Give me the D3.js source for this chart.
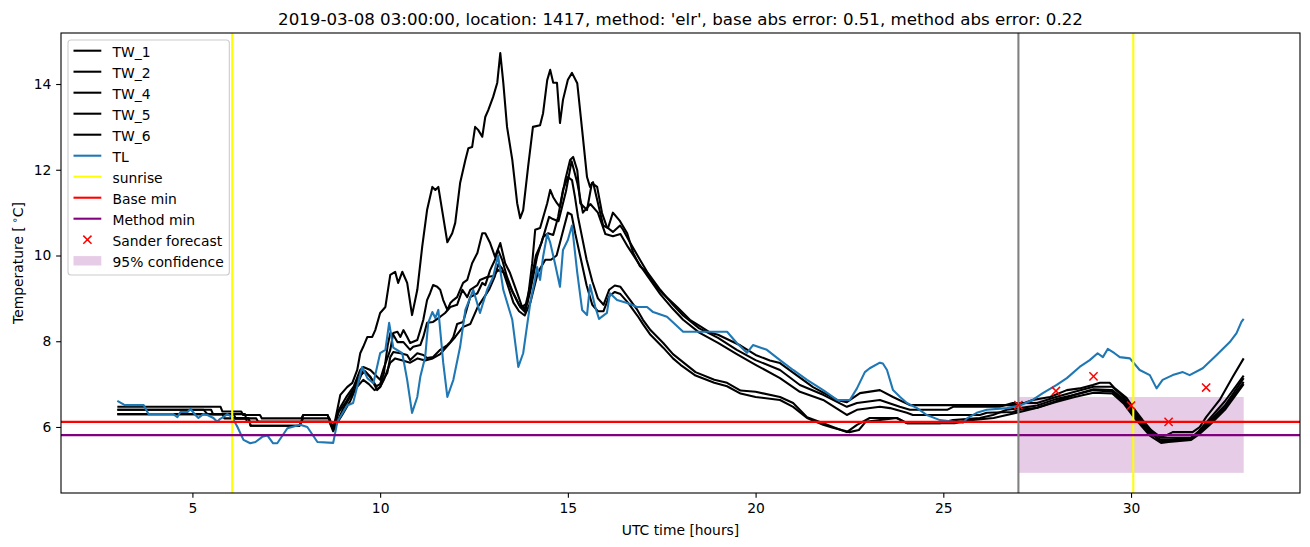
<!DOCTYPE html>
<html><head><meta charset="utf-8">
<script src="https://cdn.jsdelivr.net/npm/d3@7"></script>
<style>body{margin:0;background:#fff} svg{display:block} text{font-family:"DejaVu Sans",sans-serif;fill:#000}</style>
</head><body><svg id="c" width="1310" height="547"></svg>
<script>
// ---------------- data (time in hours UTC, temperature in °C) ----------------
const tw1 = [[3,6.47],[5.75,6.47],[5.8,6.36],[6.3,6.36],[6.35,6.28],[6.8,6.28],[6.85,6.2],[7.9,6.2],[7.95,6.28],[8.6,6.28],[8.75,5.93],[8.94,6.75],[9.12,6.93],[9.26,7.03],[9.39,7.33],[9.47,7.72],[9.55,7.87],[9.66,8.1],[9.79,8.1],[9.87,8.26],[10.0,8.66],[10.14,8.8],[10.27,9.55],[10.4,9.62],[10.48,9.36],[10.59,9.62],[10.72,9.36],[10.85,8.61],[10.99,9.2],[11.12,10.2],[11.25,11.06],[11.39,11.6],[11.47,11.53],[11.55,11.6],[11.68,10.9],[11.79,10.31],[11.92,10.52],[12.0,10.76],[12.13,11.69],[12.27,12.23],[12.35,12.5],[12.45,12.53],[12.53,13.0],[12.61,12.93],[12.72,12.77],[12.8,13.23],[12.88,13.39],[13.01,13.7],[13.12,14.03],[13.2,14.72],[13.28,14.03],[13.38,13.0],[13.52,12.23],[13.65,11.22],[13.73,10.87],[13.81,11.06],[13.94,12.06],[14.07,13.0],[14.26,13.04],[14.34,13.32],[14.45,14.09],[14.53,14.33],[14.61,14.03],[14.71,14.03],[14.79,13.09],[14.87,13.63],[15.0,14.1],[15.11,14.26],[15.25,14.02],[15.38,12.93],[15.51,11.83],[15.59,11.6],[15.67,11.71],[15.78,11.3],[15.94,10.7],[16.07,10.64],[16.2,11.0],[16.39,10.8],[16.58,10.52],[16.74,10.06],[16.92,9.75],[17.11,9.6],[17.27,9.36],[17.54,9.1],[17.91,8.8],[18.25,8.5],[18.52,8.35],[18.79,8.2],[19.0,8.15],[19.6,7.9],[20.0,7.68],[20.38,7.55],[20.65,7.49],[21.53,6.93],[22.17,6.63],[22.43,6.58],[22.78,6.79],[23.31,6.86],[23.66,6.7],[24.11,6.51],[27.0,6.51],[27.38,6.63],[27.84,6.7],[28.29,6.86],[28.63,6.9],[28.98,6.98],[29.17,7.03],[29.43,7.03],[29.57,6.9],[29.88,6.68],[30.04,6.47],[30.31,6.16],[30.58,5.88],[30.76,5.77],[30.95,5.81],[31.11,5.88],[31.64,5.88],[31.83,6.0],[32.0,6.23],[32.36,6.63],[32.71,7.17],[33.0,7.6]];
const tw2 = [[3,6.4],[5.5,6.4],[5.55,6.3],[6.4,6.3],[6.45,6.12],[7.9,6.12],[7.95,6.2],[8.65,6.2],[8.75,5.98],[8.9,6.4],[9.1,6.7],[9.3,6.95],[9.47,7.33],[9.55,7.4],[9.74,7.33],[9.82,7.26],[10.0,7.1],[10.08,7.33],[10.27,7.8],[10.35,8.19],[10.46,8.22],[10.54,8.1],[10.62,8.26],[10.72,8.1],[10.8,7.96],[10.99,8.03],[11.07,8.26],[11.15,8.5],[11.25,8.96],[11.33,9.12],[11.41,9.31],[11.52,9.27],[11.6,9.2],[11.68,8.96],[11.79,8.73],[11.87,8.89],[11.95,8.96],[12.05,9.03],[12.13,9.2],[12.21,9.36],[12.32,9.43],[12.45,9.82],[12.59,10.06],[12.72,10.52],[12.8,10.52],[12.93,10.29],[13.06,9.97],[13.2,10.29],[13.33,9.82],[13.46,9.59],[13.65,9.13],[13.78,8.8],[13.92,8.89],[14.05,9.82],[14.13,10.6],[14.26,10.64],[14.45,11.22],[14.53,11.53],[14.61,11.36],[14.71,11.22],[14.79,11.13],[14.93,11.76],[15.06,12.23],[15.14,12.3],[15.25,11.99],[15.33,11.22],[15.51,11.06],[15.64,11.69],[15.78,11.6],[15.91,10.99],[16.04,10.66],[16.2,10.55],[16.39,10.7],[16.47,10.6],[16.66,10.3],[16.92,9.9],[17.11,9.62],[17.46,9.2],[17.8,8.85],[18.07,8.6],[18.5,8.3],[19.0,8.08],[19.5,7.8],[20.0,7.56],[20.65,7.33],[21.18,6.98],[21.8,6.75],[22.43,6.47],[22.7,6.56],[23.31,6.63],[23.84,6.47],[24.11,6.4],[25.1,6.4],[25.26,6.47],[26.5,6.47],[26.85,6.56],[27.5,6.56],[28.0,6.7],[28.5,6.82],[29.0,6.94],[29.5,6.94],[29.8,6.7],[30.1,6.35],[30.5,5.95],[30.8,5.75],[31.6,5.75],[31.8,5.9],[32.1,6.2],[32.5,6.6],[33.0,7.2]];
const tw4 = [[3,6.4],[5.3,6.4],[5.4,6.3],[6.1,6.3],[6.15,6.2],[6.5,6.2],[6.55,6.03],[7.85,6.03],[7.9,6.12],[8.65,6.12],[8.75,5.95],[8.9,6.35],[9.1,6.6],[9.3,6.9],[9.47,7.2],[9.6,7.3],[9.75,7.15],[9.9,6.95],[10.0,7.0],[10.1,7.25],[10.2,7.9],[10.27,8.19],[10.35,8.15],[10.46,7.98],[10.62,7.98],[10.8,7.8],[10.88,7.87],[11.07,7.91],[11.15,8.1],[11.25,8.43],[11.41,8.45],[11.6,8.57],[11.73,8.66],[11.87,8.8],[12.05,8.85],[12.19,9.2],[12.32,9.03],[12.4,9.2],[12.59,9.31],[12.66,9.43],[12.85,9.5],[13.01,9.52],[13.14,9.66],[13.3,9.6],[13.5,9.2],[13.7,8.85],[13.85,8.75],[14.0,9.3],[14.15,10.0],[14.3,10.3],[14.5,10.9],[14.6,10.85],[14.75,10.8],[14.95,11.5],[15.1,12.2],[15.25,11.7],[15.4,11.0],[15.6,11.2],[15.8,11.0],[16.0,10.5],[16.2,10.45],[16.4,10.5],[16.6,10.2],[16.9,9.8],[17.1,9.55],[17.46,9.1],[17.8,8.75],[18.07,8.5],[18.5,8.2],[19.0,7.96],[19.5,7.7],[20.0,7.45],[20.65,7.14],[21.18,6.82],[21.8,6.63],[22.43,6.28],[22.7,6.4],[23.31,6.47],[23.58,6.44],[24.03,6.33],[24.19,6.28],[25.97,6.28],[26.16,6.33],[26.85,6.35],[27.04,6.4],[27.5,6.45],[28.0,6.6],[28.5,6.75],[29.0,6.88],[29.5,6.86],[29.8,6.65],[30.1,6.3],[30.5,5.9],[30.8,5.65],[31.0,5.68],[31.6,5.72],[31.8,5.85],[32.1,6.15],[32.5,6.5],[33.0,7.14]];
const tw5 = [[3,6.3],[5.8,6.3],[5.85,6.2],[6.7,6.2],[6.75,6.12],[7.9,6.12],[7.95,6.28],[8.6,6.28],[8.75,5.95],[9.0,6.3],[9.2,6.6],[9.4,7.0],[9.55,7.33],[9.74,7.17],[9.82,7.03],[9.92,6.86],[10.0,6.93],[10.08,7.1],[10.19,7.26],[10.27,7.63],[10.35,7.75],[10.54,7.72],[10.72,7.68],[10.8,7.56],[10.99,7.72],[11.15,7.68],[11.25,7.61],[11.41,7.63],[11.6,7.8],[11.79,7.91],[11.87,7.98],[11.95,8.1],[12.05,8.4],[12.21,8.45],[12.4,9.03],[12.59,9.12],[12.72,9.36],[12.8,9.31],[12.93,9.66],[13.06,9.9],[13.14,10.13],[13.25,9.9],[13.38,9.5],[13.54,9.13],[13.73,8.8],[13.86,8.68],[13.99,9.13],[14.18,9.97],[14.34,10.43],[14.47,10.52],[14.61,10.48],[14.74,10.9],[14.87,11.53],[15.0,11.83],[15.11,11.76],[15.19,11.36],[15.27,10.9],[15.5,9.9],[15.65,9.4],[15.8,9.0],[15.95,8.85],[16.1,9.2],[16.25,9.3],[16.4,9.27],[16.6,9.03],[16.85,8.73],[17.0,8.5],[17.2,8.26],[17.54,7.96],[17.8,7.7],[18.0,7.56],[18.4,7.28],[18.9,7.1],[19.24,7.03],[19.6,6.85],[20.0,6.82],[20.65,6.7],[21.0,6.56],[21.37,6.23],[21.8,6.09],[22.06,6.0],[22.43,5.88],[22.7,6.05],[23.04,6.21],[23.76,6.21],[24.03,6.09],[24.91,6.09],[25.26,6.16],[25.97,6.21],[26.32,6.28],[26.69,6.4],[27.04,6.44],[27.5,6.5],[28.0,6.65],[28.5,6.75],[29.0,6.86],[29.5,6.82],[29.8,6.6],[30.1,6.25],[30.5,5.85],[30.8,5.7],[31.0,5.7],[31.6,5.75],[31.8,5.85],[32.1,6.1],[32.5,6.45],[33.0,7.05]];
const tw6 = [[3,6.3],[6.0,6.3],[6.05,6.2],[6.5,6.2],[6.55,6.03],[7.85,6.03],[7.9,6.12],[8.65,6.12],[8.75,5.9],[9.0,6.4],[9.2,6.7],[9.4,6.95],[9.55,7.1],[9.7,7.0],[9.85,6.86],[10.0,6.93],[10.1,7.1],[10.27,7.5],[10.4,7.6],[10.6,7.55],[10.8,7.5],[11.0,7.6],[11.2,7.55],[11.4,7.6],[11.6,7.7],[11.8,7.9],[12.0,8.1],[12.2,8.33],[12.4,8.4],[12.6,8.8],[12.75,9.0],[12.9,9.2],[13.05,9.5],[13.15,9.8],[13.25,9.7],[13.4,9.3],[13.55,8.9],[13.7,8.7],[13.85,8.6],[14.0,8.9],[14.2,9.6],[14.4,9.9],[14.55,9.9],[14.7,10.0],[14.85,10.5],[15.0,11.0],[15.1,10.95],[15.2,10.5],[15.35,9.9],[15.5,9.3],[15.65,8.85],[15.8,8.7],[15.95,8.7],[16.1,9.05],[16.25,9.15],[16.4,9.1],[16.6,8.9],[16.85,8.6],[17.0,8.4],[17.2,8.15],[17.54,7.85],[17.8,7.6],[18.0,7.45],[18.4,7.2],[18.9,7.03],[19.24,6.95],[19.6,6.78],[20.0,6.7],[20.65,6.63],[21.0,6.47],[21.37,6.21],[21.8,6.05],[22.06,5.98],[22.5,5.88],[22.75,5.93],[22.93,6.12],[23.76,6.21],[24.03,6.09],[25.3,6.09],[25.73,6.16],[26.34,6.21],[26.69,6.28],[27.04,6.35],[27.5,6.45],[28.0,6.58],[28.5,6.7],[29.0,6.8],[29.5,6.78],[29.8,6.55],[30.1,6.2],[30.5,5.8],[30.8,5.63],[31.0,5.65],[31.6,5.7],[31.8,5.82],[32.1,6.05],[32.5,6.4],[33.0,7.0]];
const tl = [[3,6.61],[3.2,6.51],[3.7,6.51],[3.83,6.3],[4.49,6.3],[4.6,6.23],[4.68,6.35],[4.87,6.35],[4.95,6.42],[5.08,6.28],[5.16,6.21],[5.29,6.3],[5.4,6.28],[5.56,6.21],[5.66,6.12],[5.74,6.19],[5.82,6.23],[5.93,6.3],[6.06,6.23],[6.2,6.0],[6.36,5.7],[6.54,5.62],[6.68,5.65],[6.86,5.77],[7.0,5.8],[7.15,5.62],[7.26,5.62],[7.53,5.97],[7.87,6.05],[8.06,6.0],[8.33,5.65],[8.75,5.63],[8.86,6.12],[9.12,6.5],[9.28,6.56],[9.52,7.4],[9.66,7.14],[9.82,7.02],[10.0,7.72],[10.14,7.8],[10.24,8.43],[10.35,7.85],[10.59,7.72],[10.72,7.1],[10.85,6.33],[10.99,6.7],[11.07,7.17],[11.2,7.63],[11.28,8.43],[11.39,8.68],[11.47,8.54],[11.55,8.73],[11.68,7.5],[11.79,6.7],[11.95,7.1],[12.13,7.87],[12.27,8.73],[12.48,9.2],[12.66,8.66],[12.85,9.2],[13.01,9.5],[13.14,10.0],[13.28,9.2],[13.52,8.5],[13.68,7.4],[13.81,7.72],[14.0,8.9],[14.13,9.47],[14.18,9.73],[14.26,9.43],[14.34,9.97],[14.45,10.5],[14.53,10.3],[14.66,9.8],[14.79,9.27],[14.87,10.13],[15.0,10.36],[15.11,10.7],[15.25,9.6],[15.38,8.73],[15.51,8.61],[15.59,9.31],[15.73,8.8],[15.83,8.52],[16.04,8.66],[16.12,9.12],[16.31,8.96],[16.58,8.89],[16.84,8.8],[17.11,8.8],[17.27,8.68],[17.64,8.57],[18.07,8.22],[19.24,8.22],[19.5,7.96],[19.77,7.73],[19.93,7.91],[20.3,7.8],[20.65,7.56],[21.0,7.33],[21.37,7.1],[21.8,6.86],[22.17,6.63],[22.51,6.63],[22.7,6.9],[22.91,7.28],[23.04,7.37],[23.31,7.5],[23.39,7.48],[23.5,7.33],[23.66,6.86],[23.85,6.7],[24.03,6.56],[24.3,6.44],[24.56,6.28],[24.91,6.16],[25.52,6.1],[25.63,6.2],[25.89,6.33],[26.16,6.4],[26.69,6.44],[27.04,6.5],[27.38,6.63],[27.65,6.79],[28.02,6.98],[28.29,7.14],[28.63,7.4],[28.9,7.56],[29.11,7.72],[29.25,7.63],[29.38,7.82],[29.56,7.72],[29.7,7.63],[29.97,7.6],[30.23,7.33],[30.5,7.21],[30.68,6.9],[30.84,7.1],[31.11,7.21],[31.38,7.28],[31.56,7.21],[31.91,7.37],[32.28,7.68],[32.63,7.98],[32.81,8.19],[32.94,8.45],[33.0,8.52]];
const sunriseTimes = [6.06, 30.06];
const baseMin = 6.12;
const methodMin = 5.81;
const forecastStart = 27;
const sanderTimes = [27, 28, 29, 30, 31, 32];
const sanderValues = [6.51, 6.84, 7.18, 6.50, 6.12, 6.92];
const confTimes = [27, 33];
const confLow = 4.93, confHigh = 6.70;
const xDomain = [1.5, 34.5];
const yDomain = [4.46, 15.19];
const xTicks = [5, 10, 15, 20, 25, 30];
const yTicks = [6, 8, 10, 12, 14];
const twNames = ["TW_1", "TW_2", "TW_4", "TW_5", "TW_6"];
const twSeries = [tw1, tw2, tw4, tw5, tw6];
const titleText = "2019-03-08 03:00:00, location: 1417, method: 'elr', base abs error: 0.51, method abs error: 0.22";

// ---------------- layout ----------------
const L = 61, R = 1300, T = 33, B = 493;
const FS = 13.89;
const svg = d3.select("#c");
const x = d3.scaleLinear().domain(xDomain).range([L, R]);
const y = d3.scaleLinear().domain(yDomain).range([B, T]);

svg.append("defs").append("clipPath").attr("id", "clip")
  .append("rect").attr("x", L).attr("y", T).attr("width", R - L).attr("height", B - T);
const plot = svg.append("g").attr("clip-path", "url(#clip)");

// confidence band
plot.append("rect")
  .attr("x", x(confTimes[0])).attr("width", x(confTimes[1]) - x(confTimes[0]))
  .attr("y", y(confHigh)).attr("height", y(confLow) - y(confHigh))
  .attr("fill", "purple").attr("fill-opacity", 0.2);

const line = d3.line().x(d => x(d[0])).y(d => y(d[1]));
twSeries.forEach(s => {
  plot.append("path").attr("d", line(s)).attr("fill", "none")
    .attr("stroke", "#000").attr("stroke-width", 2.08).attr("stroke-linejoin", "round");
});
plot.append("path").attr("d", line(tl)).attr("fill", "none")
  .attr("stroke", "#1f77b4").attr("stroke-width", 2.08).attr("stroke-linejoin", "round");

sunriseTimes.forEach(t => {
  plot.append("line").attr("x1", x(t)).attr("x2", x(t)).attr("y1", T).attr("y2", B)
    .attr("stroke", "#ffff00").attr("stroke-width", 2.08);
});
plot.append("line").attr("x1", L).attr("x2", R).attr("y1", y(baseMin)).attr("y2", y(baseMin))
  .attr("stroke", "red").attr("stroke-width", 2.08);
plot.append("line").attr("x1", L).attr("x2", R).attr("y1", y(methodMin)).attr("y2", y(methodMin))
  .attr("stroke", "purple").attr("stroke-width", 2.08);
plot.append("line").attr("x1", x(forecastStart)).attr("x2", x(forecastStart)).attr("y1", T).attr("y2", B)
  .attr("stroke", "grey").attr("stroke-width", 2.08);

function xMark(g, cx, cy, r) {
  g.append("path").attr("d", `M${cx-r},${cy-r}L${cx+r},${cy+r}M${cx-r},${cy+r}L${cx+r},${cy-r}`)
    .attr("stroke", "red").attr("stroke-width", 1.5).attr("fill", "none");
}
sanderTimes.forEach((t, i) => xMark(plot, x(t), y(sanderValues[i]), 4.1));

// ---------------- axes ----------------
const xAxis = svg.append("g").attr("transform", `translate(0,${B})`)
  .call(d3.axisBottom(x).tickValues(xTicks).tickSizeInner(4.86).tickSizeOuter(0).tickPadding(5.5).tickFormat(d3.format("d")));
const yAxis = svg.append("g").attr("transform", `translate(${L},0)`)
  .call(d3.axisLeft(y).tickValues(yTicks).tickSizeInner(4.86).tickSizeOuter(0).tickPadding(4.86).tickFormat(d3.format("d")));
[xAxis, yAxis].forEach(a => {
  a.select(".domain").remove();
  a.selectAll(".tick line").attr("stroke", "#000").attr("stroke-width", 1.1);
  a.selectAll(".tick text").attr("font-size", FS).attr("font-family", "DejaVu Sans").attr("fill", "#000");
});
svg.append("rect").attr("x", L).attr("y", T).attr("width", R - L).attr("height", B - T)
  .attr("fill", "none").attr("stroke", "#000").attr("stroke-width", 1.1);

svg.append("text").attr("x", (L + R) / 2).attr("y", 535).attr("text-anchor", "middle")
  .attr("font-size", FS).text("UTC time [hours]");
const yl = svg.append("text").attr("transform", `translate(23,${(T + B) / 2}) rotate(-90)`)
  .attr("text-anchor", "middle").attr("font-size", FS);
yl.append("tspan").text("Temperature [");
yl.append("tspan").attr("font-size", FS * 0.7).attr("dx", 3).attr("dy", -5).text("∘");
yl.append("tspan").attr("dy", 5).text("C]");

svg.append("text").attr("x", (L + R) / 2).attr("y", 24.5).attr("text-anchor", "middle")
  .attr("font-size", 16.67).text(titleText);

// ---------------- legend ----------------
const leg = svg.append("g");
const legX = 68, legY = 40, rowH = 21.0, firstRow = 50.7;
const items = twNames.map(n => ({label: n, type: "line", color: "#000"}))
  .concat([{label: "TL", type: "line", color: "#1f77b4"},
           {label: "sunrise", type: "line", color: "#ffff00"},
           {label: "Base min", type: "line", color: "red"},
           {label: "Method min", type: "line", color: "purple"},
           {label: "Sander forecast", type: "x", color: "red"},
           {label: "95% confidence", type: "patch", color: "purple"}]);
const box = leg.append("rect").attr("x", legX).attr("y", legY).attr("rx", 3).attr("ry", 3)
  .attr("fill", "#fff").attr("fill-opacity", 0.8).attr("stroke", "#cccccc").attr("stroke-width", 1.1);
let maxW = 0;
items.forEach((it, i) => {
  const cy = firstRow + i * rowH;
  if (it.type === "line") {
    leg.append("line").attr("x1", 73.5).attr("x2", 101.3).attr("y1", cy).attr("y2", cy)
      .attr("stroke", it.color).attr("stroke-width", 2.08);
  } else if (it.type === "x") {
    xMark(leg, 87.4, cy, 4.1);
  } else {
    leg.append("rect").attr("x", 73.5).attr("y", cy - 4.6).attr("width", 27.8).attr("height", 9.4)
      .attr("fill", it.color).attr("fill-opacity", 0.2);
  }
  const t = leg.append("text").attr("x", 112.5).attr("y", cy + 5.8).attr("font-size", FS).text(it.label);
  maxW = Math.max(maxW, t.node().getComputedTextLength());
});
box.attr("width", 112.5 + maxW + 5.6 - legX).attr("height", 275 - legY);
</script></body></html>
